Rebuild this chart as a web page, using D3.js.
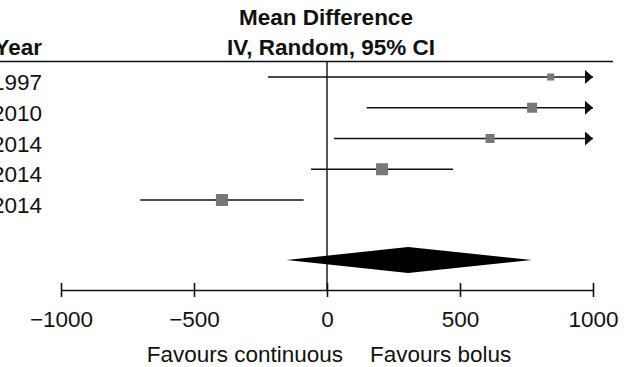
<!DOCTYPE html>
<html>
<head>
<meta charset="utf-8">
<script src="https://cdn.jsdelivr.net/npm/d3@7"></script>
<style>
  html, body { margin: 0; padding: 0; background: #fff; }
  svg { display: block; font-family: "Liberation Sans", Arial, sans-serif; }
</style>
</head>
<body>
<div id="chart"></div>
<script>
// forest plot — mean difference, IV random, 95% CI
const years   = ["1997", "2010", "2014", "2014", "2014"];
const means   = [841, 771, 613, 207, -395];
const lowers  = [-222, 149, 26, -60, -702];
const uppers  = [1904, 1393, 1200, 474, -88];
const weights = [9.5, 19.3, 15.6, 27.8, 27.8];
const pooled  = { mean: 305, lower: -152, upper: 770 };
const xTicks  = [-1000, -500, 0, 500, 1000];

const W = 629, H = 367;
const ink = '#111';
const fs = 22.5;

const svg = d3.select('#chart').append('svg')
  .attr('width', W).attr('height', H);

const x = d3.scaleLinear().domain([-1000, 1000]).range([61, 593]);
const y = d3.scalePoint().domain(d3.range(years.length)).range([77, 200]);
const side = d3.scaleSqrt().domain([0, 27.8]).range([0, 12]);
const axisY = 290, diamondY = 260;

// arrowhead for CIs running off the scale
svg.append('defs').append('marker')
  .attr('id', 'arrow').attr('viewBox', '0 -7 8 14').attr('refX', 8).attr('refY', 0)
  .attr('markerWidth', 8).attr('markerHeight', 14).attr('markerUnits', 'userSpaceOnUse')
  .attr('orient', 'auto')
  .append('path').attr('d', 'M0,-7L8,0L0,7Z').attr('fill', ink);

// headers
svg.append('text').attr('x', 326).attr('y', 25).attr('text-anchor', 'middle')
  .attr('font-size', fs).attr('font-weight', 'bold').attr('fill', ink).text('Mean Difference');
svg.append('text').attr('x', 331).attr('y', 55).attr('text-anchor', 'middle')
  .attr('font-size', fs).attr('font-weight', 'bold').attr('fill', ink).text('IV, Random, 95% CI');
svg.append('text').attr('x', 42).attr('y', 55).attr('text-anchor', 'end')
  .attr('font-size', fs).attr('font-weight', 'bold').attr('fill', ink).text('Year');

svg.append('line').attr('x1', 0).attr('x2', 613).attr('y1', 61.5).attr('y2', 61.5)
  .attr('stroke', ink).attr('stroke-width', 1.6);

// line of no effect
svg.append('line').attr('x1', x(0)).attr('x2', x(0)).attr('y1', 62).attr('y2', axisY)
  .attr('stroke', ink).attr('stroke-width', 1.4);

// study labels
svg.append('g').selectAll('text').data(years).join('text')
  .attr('x', 42).attr('y', (d, i) => y(i) + 13).attr('text-anchor', 'end')
  .attr('font-size', fs).attr('fill', ink).text(d => d);

// confidence intervals
const [xmin, xmax] = x.domain();
svg.append('g').selectAll('line').data(means).join('line')
  .attr('x1', (d, i) => x(Math.max(lowers[i], xmin)))
  .attr('x2', (d, i) => x(Math.min(uppers[i], xmax)))
  .attr('y1', (d, i) => y(i)).attr('y2', (d, i) => y(i))
  .attr('stroke', ink).attr('stroke-width', 1.6)
  .attr('marker-end', (d, i) => uppers[i] > xmax ? 'url(#arrow)' : null);

// study point estimates
svg.append('g').selectAll('rect').data(means).join('rect')
  .attr('x', (d, i) => x(d) - side(weights[i]) / 2)
  .attr('y', (d, i) => y(i) - side(weights[i]) / 2)
  .attr('width', (d, i) => side(weights[i]))
  .attr('height', (d, i) => side(weights[i]))
  .attr('fill', '#777');

// pooled diamond
svg.append('path')
  .attr('d', `M${x(pooled.lower)},${diamondY}L${x(pooled.mean)},${diamondY - 13}` +
             `L${x(pooled.upper)},${diamondY}L${x(pooled.mean)},${diamondY + 13}Z`)
  .attr('fill', '#000');

// x axis
const axis = d3.axisBottom(x).tickValues(xTicks).tickFormat(d3.format('d'))
  .tickSizeOuter(0).tickSizeInner(7);
svg.append('g').attr('transform', `translate(0,${axisY})`)
  .call(axis)
  .call(g => g.select('.domain').attr('stroke', ink).attr('stroke-width', 1.6))
  .call(g => g.selectAll('.tick line').attr('y1', -7).attr('y2', 7).attr('stroke', ink).attr('stroke-width', 1.6))
  .call(g => g.selectAll('.tick text').attr('y', 37).attr('dy', null)
    .attr('font-size', fs).attr('fill', ink)
    .attr('font-family', '"Liberation Sans", Arial, sans-serif'));

// favours labels
svg.append('text').attr('x', 343).attr('y', 362).attr('text-anchor', 'end')
  .attr('font-size', fs).attr('fill', ink).text('Favours continuous');
svg.append('text').attr('x', 370).attr('y', 362)
  .attr('font-size', fs).attr('fill', ink).text('Favours bolus');
</script>
</body>
</html>
